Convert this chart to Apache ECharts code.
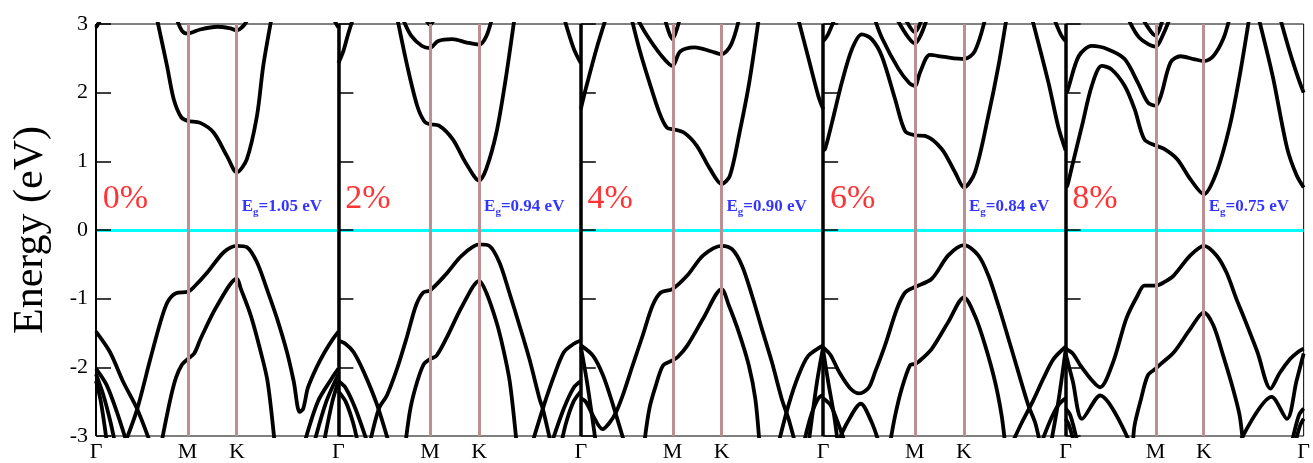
<!DOCTYPE html>
<html><head><meta charset="utf-8">
<script src="https://cdn.jsdelivr.net/npm/echarts@6/dist/echarts.min.js"></script>
<style>html,body{margin:0;padding:0;background:#fff}#c{width:1313px;height:463px}</style>
</head><body><div id="c"></div>
<script>
const strainLabels = ['0%', '2%', '4%', '6%', '8%'];
const gapValues = ['1.05', '0.94', '0.90', '0.84', '0.75'];
const kPoints = [0, 0.378, 0.581, 1];
const kNames = ['Γ', 'M', 'K', 'Γ'];
const yTicks = [-3, -2, -1, 0, 1, 2, 3];

// band lines per panel: [k (fraction of Γ-M-K-Γ path), E (eV)]
const bands0 = [
  [[0.25,3.1],[0.293,2.39],[0.321,1.9],[0.352,1.64],[0.378,1.59],[0.43,1.56],[0.485,1.42],[0.54,1.08],[0.581,0.84],[0.622,1.03],[0.664,1.66],[0.69,2.39],[0.725,3.1]],
  [[0.33,3.1],[0.355,2.9],[0.378,2.86],[0.43,2.92],[0.5,2.96],[0.55,2.94],[0.581,2.91],[0.61,2.98],[0.63,3.1]],
  [[0,2.95],[0.025,3.1]],
  [[0.975,3.1],[1,2.95]],
  [[0.12,-3.1],[0.169,-2.62],[0.224,-1.88],[0.265,-1.35],[0.295,-1.05],[0.33,-0.92],[0.378,-0.9],[0.404,-0.83],[0.459,-0.62],[0.528,-0.32],[0.581,-0.23],[0.622,-0.25],[0.664,-0.47],[0.705,-0.86],[0.747,-1.29],[0.788,-1.78],[0.816,-2.21],[0.84,-2.65],[0.855,-2.6],[0.874,-2.3],[0.91,-2.0],[0.943,-1.78],[0.975,-1.6],[1,-1.48]],
  [[0,-1.48],[0.058,-1.78],[0.112,-2.21],[0.169,-2.6],[0.224,-3.1]],
  [[0,-2.02],[0.044,-2.26],[0.086,-2.65],[0.127,-3.1]],
  [[0,-2.1],[0.03,-2.4],[0.06,-2.8],[0.078,-3.1]],
  [[0,-2.2],[0.02,-2.5],[0.045,-3.1]],
  [[0.86,-3.1],[0.915,-2.5],[0.971,-2.17],[1,-2.02]],
  [[0.9,-3.1],[0.95,-2.5],[1,-2.1]],
  [[0.94,-3.1],[0.975,-2.5],[1,-2.2]],
  [[0.27,-3.1],[0.307,-2.46],[0.33,-2.15],[0.355,-1.96],[0.378,-1.88],[0.405,-1.8],[0.432,-1.58],[0.5,-1.1],[0.581,-0.71],[0.598,-0.86],[0.639,-1.25],[0.68,-1.78],[0.708,-2.21],[0.737,-3.1]]
];
const bands1 = [
  [[0.242,3.1],[0.284,2.39],[0.325,1.81],[0.355,1.58],[0.378,1.54],[0.415,1.52],[0.472,1.32],[0.525,0.98],[0.581,0.72],[0.61,0.89],[0.652,1.42],[0.688,2.15],[0.727,3.1]],
  [[0.263,3.1],[0.3,2.83],[0.345,2.68],[0.378,2.65],[0.41,2.75],[0.47,2.78],[0.53,2.73],[0.581,2.7],[0.61,2.82],[0.635,3.1]],
  [[0.355,3.1],[0.378,2.99],[0.4,3.1]],
  [[0,2.43],[0.02,2.6],[0.04,2.85],[0.062,3.1]],
  [[0.93,3.1],[0.97,2.65],[1,2.43]],
  [[0.13,-3.1],[0.167,-2.6],[0.2,-2.41],[0.242,-2.02],[0.284,-1.54],[0.32,-1.1],[0.35,-0.91],[0.378,-0.88],[0.44,-0.66],[0.51,-0.37],[0.581,-0.21],[0.622,-0.23],[0.664,-0.47],[0.705,-0.91],[0.747,-1.39],[0.788,-1.88],[0.83,-2.46],[0.843,-2.6],[0.876,-3.1]],
  [[0,-1.61],[0.03,-1.66],[0.063,-1.78],[0.105,-2.07],[0.16,-2.55],[0.208,-3.1]],
  [[0.8,-3.1],[0.848,-2.55],[0.89,-2.12],[0.93,-1.78],[0.97,-1.66],[1,-1.61]],
  [[0.277,-3.1],[0.297,-2.6],[0.325,-2.21],[0.353,-1.95],[0.378,-1.88],[0.405,-1.83],[0.445,-1.58],[0.512,-1.1],[0.581,-0.74],[0.61,-0.91],[0.652,-1.34],[0.68,-1.73],[0.707,-2.21],[0.735,-3.1]],
  [[0,-2.2],[0.03,-2.3],[0.07,-2.6],[0.12,-3.1]],
  [[0,-2.35],[0.03,-2.5],[0.06,-2.8],[0.08,-3.1]],
  [[0.88,-3.1],[0.93,-2.6],[0.97,-2.3],[1,-2.2]],
  [[0.92,-3.1],[0.94,-2.8],[0.97,-2.5],[1,-2.35]]
];
const bands2 = [
  [[0.208,3.1],[0.242,2.63],[0.283,2.15],[0.324,1.71],[0.355,1.49],[0.378,1.47],[0.425,1.42],[0.478,1.23],[0.533,0.89],[0.581,0.67],[0.615,0.79],[0.655,1.42],[0.695,2.15],[0.735,3.1]],
  [[0.23,3.1],[0.27,2.85],[0.33,2.55],[0.378,2.39],[0.41,2.6],[0.47,2.66],[0.54,2.6],[0.581,2.56],[0.62,2.7],[0.655,3.1]],
  [[0.345,3.1],[0.378,2.78],[0.41,3.1]],
  [[0,1.76],[0.02,2.05],[0.064,2.63],[0.105,3.1]],
  [[0.895,3.1],[0.94,2.49],[0.98,1.95],[1,1.76]],
  [[0,-2.45],[0.02,-2.5],[0.05,-2.7],[0.09,-2.9],[0.12,-2.8],[0.146,-2.65],[0.173,-2.41],[0.214,-1.97],[0.255,-1.54],[0.296,-1.1],[0.33,-0.91],[0.378,-0.86],[0.44,-0.66],[0.505,-0.37],[0.581,-0.23],[0.624,-0.28],[0.665,-0.52],[0.706,-0.95],[0.747,-1.44],[0.788,-1.92],[0.829,-2.46],[0.857,-2.75],[0.884,-3.1]],
  [[0,-1.68],[0.05,-1.83],[0.092,-2.12],[0.133,-2.55],[0.18,-3.1]],
  [[0.816,-3.1],[0.857,-2.55],[0.898,-2.12],[0.939,-1.83],[1,-1.68]],
  [[0.262,-3.1],[0.283,-2.6],[0.31,-2.26],[0.34,-1.97],[0.378,-1.9],[0.4,-1.85],[0.44,-1.68],[0.505,-1.29],[0.581,-0.86],[0.611,-1.1],[0.652,-1.49],[0.693,-1.97],[0.72,-2.46],[0.737,-3.1]],
  [[0,-1.7],[0.025,-2.2],[0.062,-3.1]],
  [[0.94,-3.1],[0.975,-2.2],[1,-1.7]],
  [[0.92,-3.1],[0.95,-2.7],[0.98,-2.45],[1,-2.4]]
];
const bands3 = [
  [[0,1.16],[0.008,1.18],[0.036,1.56],[0.077,2.15],[0.118,2.63],[0.159,2.85],[0.2,2.78],[0.242,2.53],[0.297,1.9],[0.338,1.44],[0.378,1.38],[0.42,1.37],[0.489,1.18],[0.544,0.84],[0.581,0.62],[0.626,0.84],[0.681,1.66],[0.723,2.39],[0.757,3.1]],
  [[0.86,3.1],[0.929,2.15],[0.97,1.5],[1,1.16]],
  [[0.21,3.1],[0.242,2.8],[0.31,2.35],[0.355,2.14],[0.378,2.1],[0.4,2.3],[0.44,2.55],[0.5,2.52],[0.581,2.49],[0.625,2.6],[0.67,3.1]],
  [[0.3,3.1],[0.378,2.72],[0.43,3.1]],
  [[0.335,3.1],[0.378,2.88],[0.41,3.1]],
  [[0,2.75],[0.02,2.85],[0.05,3.1]],
  [[0.95,3.1],[0.98,2.85],[1,2.75]],
  [[0,-1.71],[0.03,-1.82],[0.066,-2.07],[0.11,-2.3],[0.149,-2.38],[0.187,-2.3],[0.214,-2.07],[0.255,-1.68],[0.304,-1.15],[0.338,-0.91],[0.378,-0.83],[0.448,-0.71],[0.516,-0.37],[0.581,-0.22],[0.64,-0.37],[0.681,-0.66],[0.723,-1.1],[0.764,-1.58],[0.805,-2.07],[0.846,-2.55],[0.874,-2.8],[0.894,-3.1]],
  [[0.06,-3.1],[0.1,-2.8],[0.155,-2.53],[0.2,-2.8],[0.23,-3.1]],
  [[0.78,-3.1],[0.82,-2.8],[0.864,-2.5],[0.91,-2.15],[0.95,-1.88],[1,-1.7]],
  [[0.276,-3.1],[0.297,-2.7],[0.324,-2.31],[0.358,-1.97],[0.378,-1.95],[0.393,-1.92],[0.448,-1.73],[0.516,-1.34],[0.581,-0.98],[0.626,-1.25],[0.668,-1.68],[0.709,-2.21],[0.736,-2.7],[0.75,-3.1]],
  [[0,-2.45],[0.03,-2.55],[0.06,-2.8],[0.09,-3.1]],
  [[0,-1.75],[0.02,-2.2],[0.045,-2.7],[0.06,-3.1]],
  [[0.9,-3.1],[0.94,-2.75],[0.97,-2.55],[1,-2.45]],
  [[0.94,-3.1],[0.97,-2.5],[1,-1.75]]
];
const bands4 = [
  [[0,0.62],[0.007,0.64],[0.028,0.94],[0.069,1.52],[0.11,2.1],[0.152,2.39],[0.193,2.34],[0.248,2.1],[0.29,1.76],[0.331,1.32],[0.378,1.23],[0.414,1.18],[0.469,1.03],[0.524,0.74],[0.581,0.52],[0.634,0.84],[0.69,1.52],[0.731,2.24],[0.772,3.1]],
  [[0.81,3.1],[0.87,2.24],[0.93,1.2],[0.97,0.8],[1,0.62]],
  [[0,2.0],[0.007,2.02],[0.055,2.53],[0.11,2.68],[0.179,2.63],[0.248,2.49],[0.303,2.15],[0.345,1.86],[0.378,1.81],[0.4,1.95],[0.441,2.44],[0.483,2.53],[0.538,2.49],[0.581,2.46],[0.62,2.53],[0.662,2.78],[0.69,3.1]],
  [[0.9,3.1],[0.95,2.5],[1,2.0]],
  [[0.26,3.1],[0.31,2.8],[0.378,2.67],[0.41,2.85],[0.44,3.1]],
  [[0.32,3.1],[0.378,2.83],[0.41,3.1]],
  [[0,-1.73],[0.03,-1.8],[0.062,-1.97],[0.116,-2.21],[0.145,-2.29],[0.2,-1.92],[0.255,-1.29],[0.303,-0.95],[0.331,-0.81],[0.378,-0.81],[0.414,-0.76],[0.455,-0.66],[0.524,-0.37],[0.581,-0.23],[0.634,-0.37],[0.676,-0.62],[0.717,-1.0],[0.751,-1.29],[0.806,-1.78],[0.861,-2.31],[0.9,-2.08],[0.943,-1.88],[0.975,-1.78],[1,-1.73]],
  [[0,-1.8],[0.03,-2.2],[0.069,-2.75],[0.145,-2.41],[0.27,-3.1]],
  [[0.73,-3.1],[0.866,-2.43],[0.93,-2.75],[0.97,-2.2],[1,-1.8]],
  [[0.283,-3.1],[0.29,-2.84],[0.317,-2.46],[0.345,-2.12],[0.378,-2.02],[0.4,-1.95],[0.455,-1.78],[0.524,-1.44],[0.581,-1.2],[0.621,-1.39],[0.662,-1.83],[0.703,-2.31],[0.731,-2.7],[0.745,-3.1]],
  [[0,-2.6],[0.02,-2.7],[0.05,-3.1]],
  [[0,-2.75],[0.015,-2.85],[0.035,-3.1]],
  [[0.95,-3.1],[0.98,-2.7],[1,-2.6]],
  [[0.965,-3.1],[0.985,-2.85],[1,-2.75]]
];
const panelBands = [bands0, bands1, bands2, bands3, bands4];

const chart = echarts.init(document.getElementById('c'));
const L0 = 96, PW = 242.4, TOP = 24, BOTTOM = 26;
const SERIF = 'Liberation Serif';
const grids = [], xAxes = [], yAxes = [], series = [];

for (let i = 0; i < 5; i++) {
  grids.push({left: L0 + PW * i, width: PW, top: TOP, bottom: BOTTOM, show: true,
    borderColor: '#000', borderWidth: 1, backgroundColor: 'transparent'});
  const labelVals = i === 4 ? kPoints : kPoints.slice(0, 3);
  xAxes.push({gridIndex: i, type: 'value', min: 0, max: 1,
    splitLine: {show: false}, axisLine: {show: false}, axisTick: {show: false},
    axisLabel: {customValues: labelVals, formatter: v => kNames[kPoints.indexOf(v)],
      fontFamily: SERIF, fontSize: 22, color: '#000', margin: 5}});
  yAxes.push({gridIndex: i, type: 'value', min: yTicks[0], max: yTicks[yTicks.length - 1], interval: 1, z: 10,
    axisLine: {show: false}, splitLine: {show: false},
    axisTick: {show: true, inside: true, length: 15, lineStyle: {color: '#000', width: 1.5}},
    axisLabel: {show: i === 0, fontFamily: SERIF, fontSize: 22, color: '#000', margin: 8},
    name: i === 0 ? 'Energy (eV)' : '', nameLocation: 'middle', nameGap: 44, nameRotate: 90,
    nameTextStyle: {fontFamily: SERIF, fontSize: 42, color: '#000'}});

  series.push({type: 'line', xAxisIndex: i, yAxisIndex: i, data: [], z: 1, silent: true,
    markLine: {silent: true, symbol: ['none', 'none'], label: {show: false}, animation: false,
      data: [
        {yAxis: 0, lineStyle: {color: '#00ffff', width: 3, type: 'solid'}},
        {xAxis: kPoints[1], lineStyle: {color: '#bc9090', width: 3, type: 'solid'}},
        {xAxis: kPoints[2], lineStyle: {color: '#bc9090', width: 3, type: 'solid'}}
      ]}});

  panelBands[i].forEach(b => series.push({type: 'line', xAxisIndex: i, yAxisIndex: i, data: b,
    showSymbol: false, symbol: 'none', smooth: 0.3, z: 3, silent: true,
    lineStyle: {color: '#000', width: 3.8}}));

  series.push({type: 'line', xAxisIndex: i, yAxisIndex: i, data: [], z: 6, silent: true,
    markLine: {silent: true, symbol: ['none', 'none'], label: {show: false}, animation: false,
      data: [{xAxis: 0, lineStyle: {color: '#000', width: i === 0 ? 2 : 3.5, type: 'solid'}}]}});

  series.push({type: 'scatter', xAxisIndex: i, yAxisIndex: i, symbolSize: 0, silent: true, z: 8,
    data: [[0.028, 0.45]],
    label: {show: true, position: 'right', distance: 0, formatter: strainLabels[i],
      fontFamily: SERIF, fontSize: 34, color: '#ff0000'}});

  series.push({type: 'scatter', xAxisIndex: i, yAxisIndex: i, symbolSize: 0, silent: true, z: 8,
    data: [[kPoints[2] + 0.02, 0.34]],
    label: {show: true, position: 'right', distance: 0,
      formatter: '{e|E}{g|g}{t|=' + gapValues[i] + ' eV}',
      rich: {
        e: {fontFamily: SERIF, fontSize: 17, fontWeight: 'bold', color: '#0000ff'},
        g: {fontFamily: SERIF, fontSize: 11, fontWeight: 'bold', color: '#0000ff', padding: [12, 0, 0, 0]},
        t: {fontFamily: SERIF, fontSize: 17, fontWeight: 'bold', color: '#0000ff'}
      }}});
}

chart.setOption({animation: false, backgroundColor: '#fff', grid: grids, xAxis: xAxes, yAxis: yAxes, series: series});
</script></body></html>
